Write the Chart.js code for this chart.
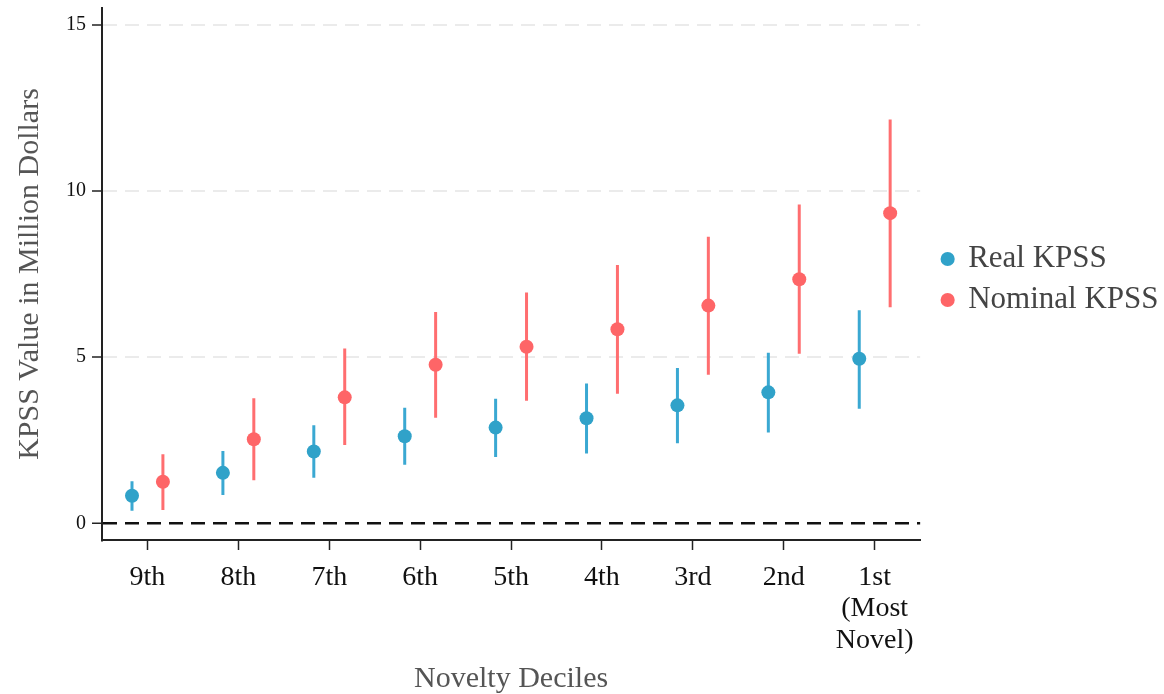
<!DOCTYPE html>
<html>
<head>
<meta charset="utf-8">
<script src="https://cdn.jsdelivr.net/npm/chart.js@4.4.1/dist/chart.umd.min.js"></script>
<style>
html,body{margin:0;padding:0;background:#fff;}
#wrap{width:1164px;height:694px;position:relative;}
</style>
</head>
<body>
<div id="wrap"><canvas id="c"></canvas></div>
<script>
const categories = ['9th', '8th', '7th', '6th', '5th', '4th', '3rd', '2nd', '1st (Most Novel)'];
const xTickLabels = [['9th'], ['8th'], ['7th'], ['6th'], ['5th'], ['4th'], ['3rd'], ['2nd'], ['1st', '(Most', 'Novel)']];
const yTicks = [0, 5, 10, 15];

const realKPSS = [0.83, 1.52, 2.16, 2.62, 2.88, 3.16, 3.55, 3.94, 4.95];
const realLow  = [0.38, 0.85, 1.37, 1.76, 2.00, 2.10, 2.41, 2.73, 3.45];
const realHigh = [1.27, 2.18, 2.95, 3.48, 3.75, 4.21, 4.67, 5.13, 6.41];

const nominalKPSS = [1.25, 2.53, 3.79, 4.77, 5.31, 5.84, 6.55, 7.34, 9.33];
const nominalLow  = [0.40, 1.30, 2.36, 3.18, 3.69, 3.90, 4.47, 5.10, 6.50];
const nominalHigh = [2.08, 3.76, 5.26, 6.36, 6.94, 7.77, 8.62, 9.59, 12.15];

const BLUE = '#30a2c9', BLUE_BAR = '#3aa8d2';
const RED = '#fe6567', RED_BAR = '#ff6e70';
const DODGE = 0.17;

Chart.defaults.font.family = "'Liberation Serif', 'Times New Roman', serif";

const legendGap = {
  id: 'legendGap',
  afterLayout(chart) {
    const l = chart.legend;
    if (l) { l.left += 12.5; l.right += 12.5; }
  }
};

new Chart(document.getElementById('c'), {
  type: 'scatter',
  data: {
    labels: categories,
    datasets: [
      {
        type: 'bar', label: 'Real CI',
        data: realLow.map((l, i) => ({ x: i - DODGE, y: [l, realHigh[i]] })),
        backgroundColor: BLUE_BAR, borderWidth: 0,
        xAxisID: 'xp', yAxisID: 'y',
        grouped: false, barPercentage: 1, maxBarThickness: 3,
        order: 2
      },
      {
        type: 'bar', label: 'Nominal CI',
        data: nominalLow.map((l, i) => ({ x: i + DODGE, y: [l, nominalHigh[i]] })),
        backgroundColor: RED_BAR, borderWidth: 0,
        xAxisID: 'xp', yAxisID: 'y',
        grouped: false, barPercentage: 1, maxBarThickness: 3,
        order: 2
      },
      {
        type: 'scatter', label: 'Real KPSS',
        data: realKPSS.map((v, i) => ({ x: i - DODGE, y: v })),
        backgroundColor: BLUE, borderColor: BLUE, borderWidth: 0,
        pointRadius: 7, pointHoverRadius: 7, pointBorderWidth: 0, pointStyle: 'circle',
        xAxisID: 'xp', yAxisID: 'y', order: 1
      },
      {
        type: 'scatter', label: 'Nominal KPSS',
        data: nominalKPSS.map((v, i) => ({ x: i + DODGE, y: v })),
        backgroundColor: RED, borderColor: RED, borderWidth: 0,
        pointRadius: 7, pointHoverRadius: 7, pointBorderWidth: 0, pointStyle: 'circle',
        xAxisID: 'xp', yAxisID: 'y', order: 1
      }
    ]
  },
  plugins: [legendGap],
  options: {
    responsive: true,
    maintainAspectRatio: false,
    animation: false,
    devicePixelRatio: 1,
    layout: { padding: { top: 8, left: 0, bottom: 0, right: 8 } },
    plugins: {
      tooltip: { enabled: false },
      legend: {
        position: 'right',
        align: 'center',
        fullSize: false,
        title: { display: true, text: ' ', font: { size: 11, lineHeight: 1 }, padding: 0 },
        labels: {
          filter: (item) => item.text === 'Real KPSS' || item.text === 'Nominal KPSS',
          usePointStyle: true,
          boxWidth: 10, boxHeight: 10,
          padding: 10,
          color: '#444',
          font: { size: 31 }
        }
      }
    },
    scales: {
      x: {
        type: 'category',
        labels: categories,
        position: 'bottom',
        offset: true,
        grid: { display: true, drawOnChartArea: false, drawTicks: true, offset: false,
                tickLength: 10, tickColor: '#222', tickWidth: 1.5 },
        border: { display: true, color: '#222', width: 2 },
        ticks: {
          autoSkip: false, maxRotation: 0, minRotation: 0,
          color: '#111', padding: 12,
          font: { size: 28, lineHeight: 1.12 },
          callback: (v, i) => xTickLabels[i]
        },
        title: { display: true, text: 'Novelty Deciles', color: '#555',
                 font: { size: 30, lineHeight: 1.2 }, padding: { top: 0, bottom: -3 } },
        afterFit: (s) => { s.height = 154; s.paddingLeft = 0; s.paddingRight = 0; }
      },
      xp: {
        type: 'linear', min: -0.5, max: 8.5, offset: false, display: false,
        grid: { offset: false }
      },
      y: {
        type: 'linear',
        position: 'left',
        min: -0.5, max: 15.5,
        afterBuildTicks: (s) => { s.ticks = yTicks.map(v => ({ value: v })); },
        grid: {
          drawOnChartArea: true, drawTicks: true,
          color: (c) => (c.tick && c.tick.value === 0) ? '#111' : '#ebebeb',
          lineWidth: (c) => (c.tick && c.tick.value === 0) ? 2.5 : 2,
          tickColor: '#222', tickLength: 10, tickWidth: 1.5
        },
        border: { display: true, color: '#222', width: 2, dash: [14, 8] },
        ticks: { color: '#111', padding: 6, font: { size: 20 } },
        title: { display: true, text: 'KPSS Value in Million Dollars', color: '#555',
                 font: { size: 30, lineHeight: 1.2 }, padding: { top: 12, bottom: 0 } },
        afterFit: (s) => { s.width = 102; s.paddingTop = 0; s.paddingBottom = 0; }
      }
    }
  }
});
</script>
</body>
</html>
